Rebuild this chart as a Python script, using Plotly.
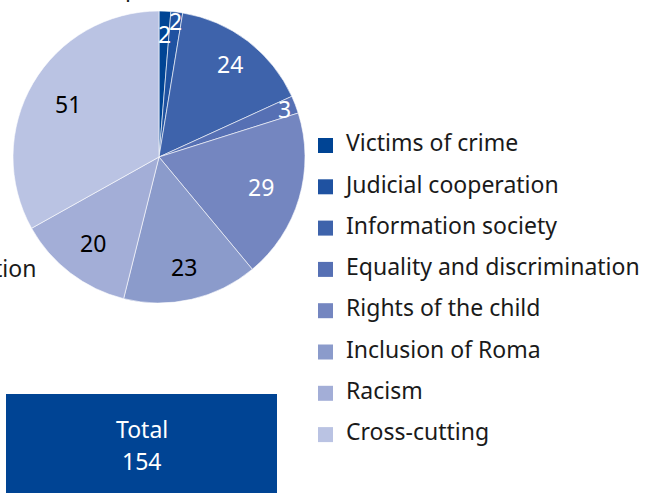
import math
import plotly.graph_objects as go

categories = ["Victims of crime", "Judicial cooperation", "Information society",
              "Equality and discrimination", "Rights of the child", "Inclusion of Roma",
              "Racism", "Cross-cutting"]
values = [2, 2, 24, 3, 29, 23, 20, 51]

# styling (not data)
colors = ["#004494", "#1f52a1", "#3e63ab", "#5670b4", "#7486c0", "#8b9bcb",
          "#a3aed7", "#bac3e3"]
label_colors = ["white", "white", "white", "white", "white", "black", "black", "black"]
label_radius = [0.84, 0.94, 0.80, 0.92, 0.73, 0.77, 0.74, 0.72]

W, H = 648, 493
CX, CY, R = 159, 157, 146
FONT = "Noto Sans"
FS = 23
TXT = "#1a1a1a"

fig = go.Figure()

fig.add_trace(go.Pie(
    labels=categories, values=values, sort=False, direction="clockwise", rotation=0,
    marker=dict(colors=colors, line=dict(color="white", width=0.6)),
    textinfo="none", hoverinfo="label+value", showlegend=False,
    domain=dict(x=[(CX - R) / W, (CX + R) / W], y=[1 - (CY + R) / H, 1 - (CY - R) / H]),
))


def ann(x, y, text, color=TXT, xanchor="center", yanchor="middle", **kw):
    return dict(x=x / W, y=1 - y / H, xref="paper", yref="paper", text=text,
                xanchor=xanchor, yanchor=yanchor, showarrow=False,
                font=dict(family=FONT, size=FS, color=color), **kw)


# slice value labels, positioned from the data (cumulative angles)
total = sum(values)
cum = 0
annotations = []
for v, c, f in zip(values, label_colors, label_radius):
    mid = (cum + v / 2) / total * 2 * math.pi
    cum += v
    px = CX + R * f * math.sin(mid)
    py = CY - R * f * math.cos(mid)
    annotations.append(ann(px, py, str(v), color=c))

# legend drawn as a scatter on a pixel-scaled overlay axis
idx = list(range(len(categories)))
fig.add_trace(go.Scatter(
    x=[325.5] * len(categories), y=idx, mode="markers",
    marker=dict(symbol="square", size=15, color=colors, line=dict(width=0)),
    showlegend=False, hoverinfo="skip",
))
fig.add_trace(go.Scatter(
    x=[346] * len(categories), y=idx, mode="text",
    text=categories, textposition="middle right",
    textfont=dict(family=FONT, size=FS, color=TXT),
    showlegend=False, hoverinfo="skip",
))

step = 41.3
first = 145.5
fig.update_layout(
    width=W, height=H, margin=dict(l=0, r=0, t=0, b=0),
    paper_bgcolor="white", plot_bgcolor="rgba(0,0,0,0)",
    xaxis=dict(range=[0, W], visible=False, fixedrange=True, domain=[0, 1]),
    yaxis=dict(range=[(H - first) / step, -first / step], visible=False,
               fixedrange=True, domain=[0, 1]),
    shapes=[dict(type="rect", xref="paper", yref="paper",
                 x0=6 / W, x1=277 / W, y0=0, y1=1 - 394 / H,
                 fillcolor="#004494", line=dict(width=0), layer="below")],
    annotations=annotations + [
        ann(141.5, 428.5, "Total", color="white"),
        ann(141.5, 461, str(total), color="white"),
        ann(38, 268, "tion", xanchor="right"),
        ann(132, 0, "p", yanchor="bottom", yshift=-5),
    ],
    showlegend=False,
)

fig.write_html("out.html", config={"displayModeBar": False},
               post_script="document.body.style.margin='0';")
